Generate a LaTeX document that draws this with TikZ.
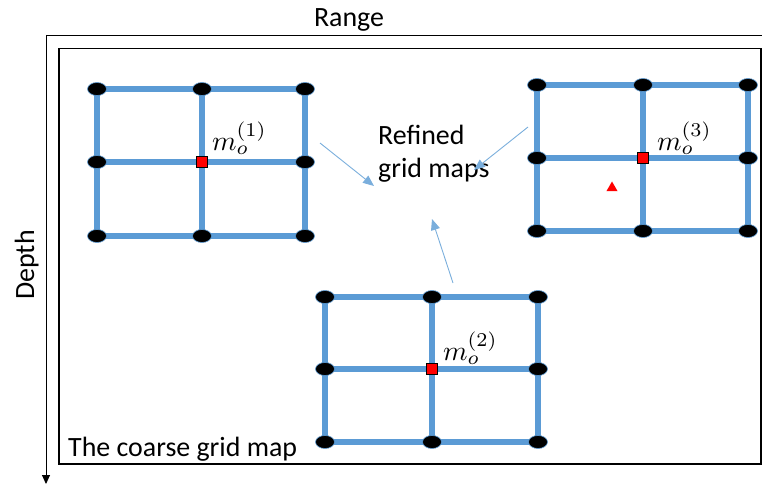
\documentclass[tikz,border=0pt]{standalone}
\usepackage{graphicx}
\usepackage{fontspec}
\setmainfont{Carlito}
\usetikzlibrary{shapes.geometric,arrows.meta}
\definecolor{gridblue}{HTML}{5B9BD5}
\definecolor{arrblue}{HTML}{7AAEDC}
\newcommand{\mlab}[1]{\scalebox{2.8}{$m_o^{(#1)}$}}
\tikzset{
  gline/.style={gridblue,line width=5.5bp},
  gdot/.style={ellipse,fill=black,draw=gridblue,line width=0.6bp,minimum width=19bp,minimum height=13bp,inner sep=0pt},
  gsq/.style={rectangle,fill=red,draw=black,line width=1bp,minimum size=11bp,inner sep=0pt},
  refarrow/.style={arrblue,line width=0.9bp,-{Triangle[length=11bp,width=9bp]}},
  lbl/.style={font=\fontsize{28}{34}\selectfont,inner sep=0pt},
  mlbl/.style={inner sep=0pt,anchor=west}
}
\begin{document}
\begin{tikzpicture}[x=1bp,y=-1bp]
\useasboundingbox (0,0) rectangle (762,484);
% axes
\coordinate (ax0) at (46,35);
\coordinate (axR) at (762,35);
\coordinate (axD) at (46,484);
\draw[black,line width=0.9bp] (axR) -- (ax0);
\draw[black,line width=0.9bp,-{Triangle[length=9bp,width=8bp]}] (ax0) -- (axD);
\node[lbl,anchor=base] (range) at (349,27) {Range};
\node[lbl,rotate=90,anchor=base] (depth) at (34,265) {Depth};
% coarse map box
\node[draw=black,line width=1.5bp,minimum width=702bp,minimum height=415bp,inner sep=0pt,anchor=north west] (box) at (58,48) {};
\node[lbl,anchor=base west] (coarse) at (68,456) {The coarse grid map};
% grids
\foreach \g/\xa/\xb/\xc/\ya/\yb/\yc in {1/97/202/305/89/162/236, 2/325/432/538/297/369/442, 3/537/643/748/85/158/231}{
  \foreach \i/\x in {0/\xa,1/\xb,2/\xc}{
    \foreach \j/\y in {0/\ya,1/\yb,2/\yc}{
      \coordinate (g\g-\i\j) at (\x,\y);
    }
  }
  \foreach \j in {0,1,2}{
    \draw[gline] (g\g-0\j) -- (g\g-2\j);
    \draw[gline] (g\g-\j0) -- (g\g-\j2);
  }
  \foreach \i/\j in {0/0,1/0,2/0,0/1,2/1,0/2,1/2,2/2}{
    \node[gdot] (d\g-\i\j) at (g\g-\i\j) {};
  }
  \node[gsq] (sq\g) at (g\g-11) {};
}
\node[mlbl] (m1) at (212,138) {\mlab{1}};
\node[mlbl] (m2) at (443,348) {\mlab{2}};
\node[mlbl] (m3) at (657,138) {\mlab{3}};
\node[regular polygon,regular polygon sides=3,fill=red,minimum size=13bp,inner sep=0pt] (tri) at (612,188) {};
% refined label and arrows
\node[lbl,align=left,anchor=base west] (ref) at (378,178) {Refined\\grid maps};
\coordinate (a1s) at (320,143);
\coordinate (a1e) at (374,186);
\coordinate (a2s) at (528,127);
\coordinate (a2e) at (474,170);
\coordinate (a3s) at (453,283);
\coordinate (a3e) at (432,219);
\draw[refarrow] (a1s) -- (a1e);
\draw[refarrow] (a2s) -- (a2e);
\draw[refarrow] (a3s) -- (a3e);
\end{tikzpicture}
\end{document}
